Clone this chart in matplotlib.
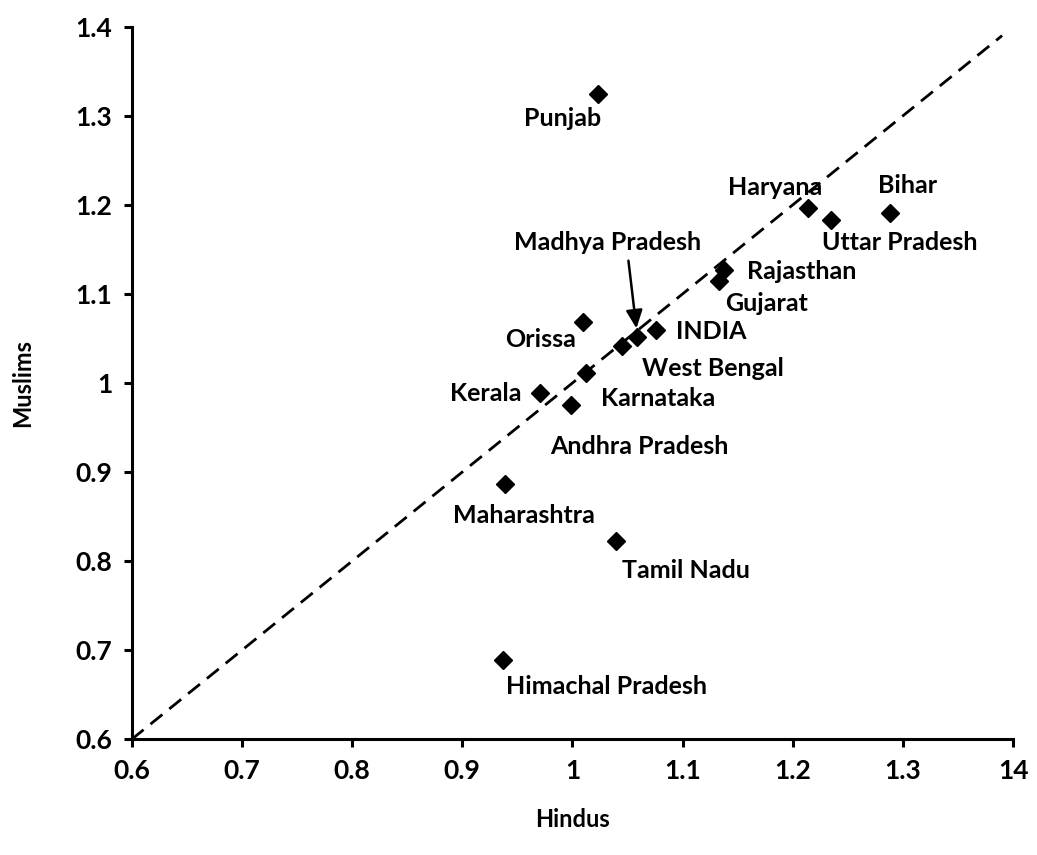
import matplotlib
matplotlib.use("Agg")
import matplotlib.pyplot as plt

states = ["Punjab", "Haryana", "Uttar Pradesh", "Bihar", "Rajasthan", "Gujarat",
          "INDIA", "Madhya Pradesh", "West Bengal", "Orissa", "Karnataka", "Kerala",
          "Andhra Pradesh", "Maharashtra", "Tamil Nadu", "Himachal Pradesh"]
hindus = [1.023, 1.214, 1.235, 1.288, 1.138, 1.133, 1.076, 1.059, 1.045, 1.010,
          1.012, 0.971, 0.999, 0.939, 1.040, 0.937]
muslims = [1.324, 1.196, 1.183, 1.191, 1.127, 1.115, 1.060, 1.052, 1.042, 1.068,
           1.011, 0.989, 0.975, 0.887, 0.823, 0.689]
ticks = [0.6, 0.7, 0.8, 0.9, 1.0, 1.1, 1.2, 1.3, 1.4]
xtick_labels = ["0.6", "0.7", "0.8", "0.9", "1", "1.1", "1.2", "1.3", "14"]
ytick_labels = ["0.6", "0.7", "0.8", "0.9", "1", "1.1", "1.2", "1.3", "1.4"]

# label offsets in pixels (text centre relative to point)
offsets = {
    "Punjab": (-35, -24), "Haryana": (-33, 21), "Bihar": (18, 27),
    "Uttar Pradesh": (68, -23), "Madhya Pradesh": (-30, 94),
    "Rajasthan": (77, -2), "Gujarat": (48, -23), "Orissa": (-43, -17),
    "INDIA": (55, -2), "West Bengal": (91, -23), "Kerala": (-55, -1),
    "Karnataka": (72, -25), "Andhra Pradesh": (68, -41), "Maharashtra": (19, -32),
    "Tamil Nadu": (69, -30), "Himachal Pradesh": (103, -26),
}

plt.rcParams['font.family'] = ['Lato', 'DejaVu Sans']
fig = plt.figure(figsize=(10.37, 8.55), dpi=100)
ax = fig.add_axes([0.127, 0.1353, 0.85, 0.8335])

ax.plot([0.6, 1.39], [0.6, 1.39], linestyle=(0, (5.5, 3.2)), color='black', lw=2.0, zorder=1)
ax.plot(hindus, muslims, linestyle='none', marker='D', ms=9.5, color='black', zorder=3)

for s, x, y in zip(states, hindus, muslims):
    dx, dy = offsets[s]
    ax.annotate(s, xy=(x, y), xytext=(dx, dy), textcoords='offset pixels',
                ha='center', va='center', fontsize=18, fontweight='bold')
    if s == "Madhya Pradesh":
        ax.annotate("", xy=(x, y), xytext=(-9, 76), textcoords='offset pixels',
                    arrowprops=dict(arrowstyle='-|>,head_length=1.1,head_width=0.5',
                                    color='black', lw=1.8, shrinkA=0, shrinkB=6))

ax.set_xlim(0.6, 1.4)
ax.set_ylim(0.6, 1.4)
ax.set_xticks(ticks)
ax.set_xticklabels(xtick_labels)
ax.set_yticks(ticks)
ax.set_yticklabels(ytick_labels)
for sp in ['top', 'right']:
    ax.spines[sp].set_visible(False)
for sp in ['left', 'bottom']:
    ax.spines[sp].set_linewidth(2.2)
ax.tick_params(width=2.2, length=6, labelsize=19, direction='out', pad=8)
for lab in ax.get_xticklabels() + ax.get_yticklabels():
    lab.set_fontweight('bold')
ax.set_xlabel("Hindus", fontsize=17, fontweight='bold', labelpad=18)
ax.set_ylabel("Muslims", fontsize=17, fontweight='bold', labelpad=30)

fig.savefig("out.png", dpi=100)
